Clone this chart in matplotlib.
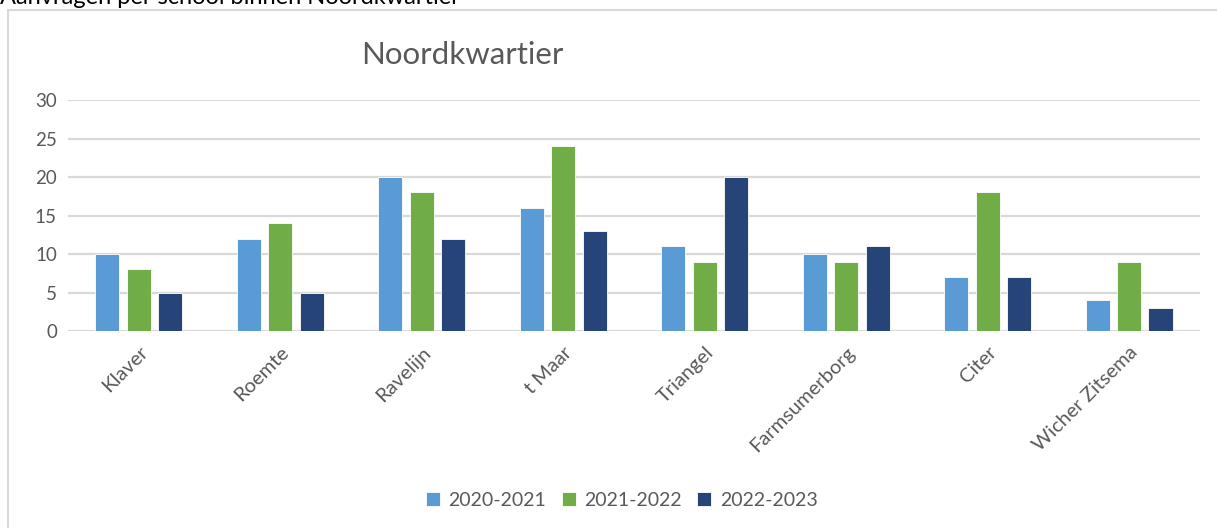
import matplotlib.pyplot as plt
import numpy as np
from matplotlib.patches import Rectangle

plt.rcParams['font.family'] = ['Lato', 'DejaVu Sans']

# Data
scholen = ['Klaver', 'Roemte', 'Ravelijn', 't Maar', 'Triangel',
           'Farmsumerborg', 'Citer', 'Wicher Zitsema']
jaren = ['2020-2021', '2021-2022', '2022-2023']
v_2020 = [10, 12, 20, 16, 11, 10, 7, 4]
v_2021 = [8, 14, 18, 24, 9, 9, 18, 9]
v_2022 = [5, 5, 12, 13, 20, 11, 7, 3]
kleuren = ['#5B9BD5', '#70AD47', '#264478']

fig = plt.figure(figsize=(12.17, 5.28), dpi=100)
ax = fig.add_axes([0.0559, 0.373, 0.930, 0.4375])

x = np.arange(len(scholen))
breedte = 0.17
stap = 0.222
for i, (vals, lab, kl) in enumerate(zip([v_2020, v_2021, v_2022], jaren, kleuren)):
    ax.bar(x + (i - 1) * stap, vals, width=breedte, color=kl, label=lab,
           edgecolor='white', linewidth=0.6, zorder=3)

ax.set_xlim(-0.5, len(scholen) - 0.5)
ax.set_ylim(0, 30)
ax.set_yticks(range(0, 31, 5))
ax.yaxis.grid(True, color='#D9D9D9', linewidth=1.6, zorder=0)
for s in ax.spines.values():
    s.set_visible(False)
ax.tick_params(axis='both', length=0, labelcolor='#595959')
ax.tick_params(axis='y', pad=8, labelsize=13.5)
ax.set_xticks(x)
ax.set_xticklabels(scholen, rotation=45, ha='right', rotation_mode='anchor')
ax.tick_params(axis='x', pad=9, labelsize=14.5)

fig.text(0.297, 0.895, 'Noordkwartier', fontsize=22.5, color='#595959',
         ha='left', va='center')

fig.legend(loc='center', bbox_to_anchor=(0.511, 0.052), ncol=3, frameon=False,
           fontsize=14, labelcolor='#595959', handlelength=0.7,
           handleheight=0.7, handletextpad=0.45, columnspacing=0.8)

# outer chart frame (extends past right and bottom edge)
fig.patches.append(Rectangle((8 / 1217, -0.1), 1.2, 1.1 - 10 / 528,
                             transform=fig.transFigure, fill=False,
                             edgecolor='#D9D9D9', linewidth=1.5))

# page heading above the chart, partly cut off at the top edge as in the original
fig.text(0.0, 1 - 4 / 528, 'Aanvragen per school binnen Noordkwartier',
         fontsize=17, color='black', ha='left', va='baseline')

fig.savefig('out.png', dpi=100)
